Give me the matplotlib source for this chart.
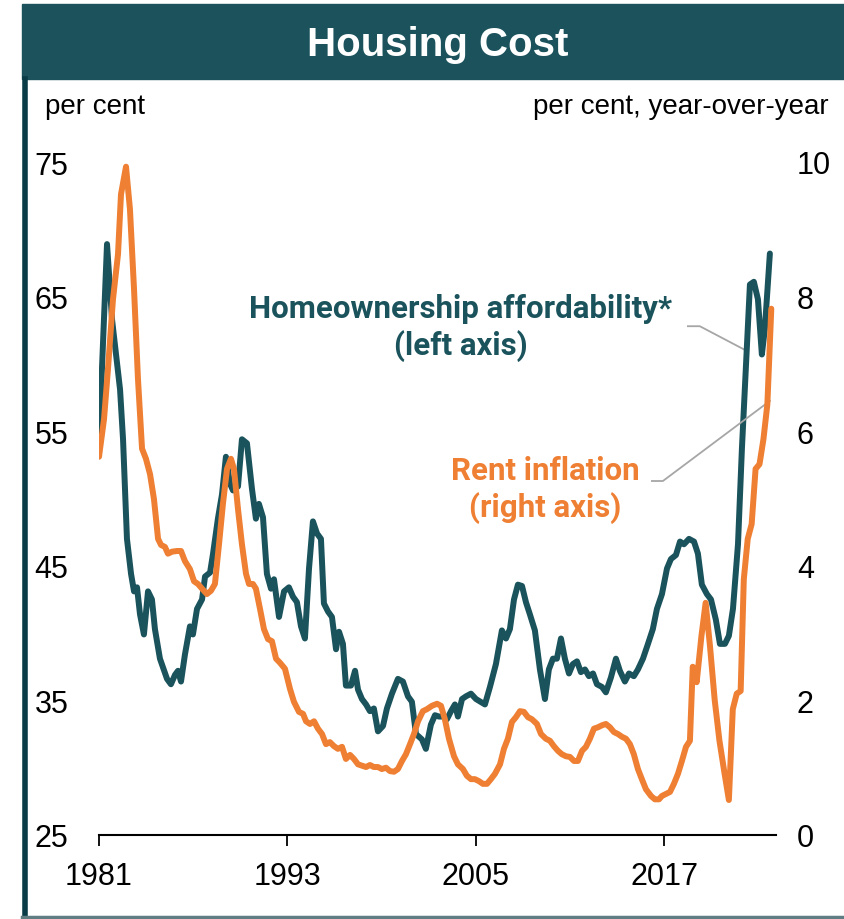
import matplotlib
matplotlib.use("Agg")
import matplotlib.pyplot as plt
from matplotlib.patches import Rectangle
from matplotlib.lines import Line2D

# Homeownership affordability, per cent (left axis)
afford_year = [1981.00, 1981.51, 1981.83, 1982.34, 1982.53, 1982.78, 1983.04, 1983.23, 1983.42,
               1983.61, 1983.86, 1984.12, 1984.37, 1984.56, 1984.88, 1985.33, 1985.58, 1985.84,
               1986.03, 1986.22, 1986.47, 1986.79, 1986.98, 1987.24, 1987.56, 1987.75, 1988.07,
               1988.26, 1988.57, 1988.83, 1989.08, 1989.34, 1989.53, 1989.85, 1990.10, 1990.42,
               1990.74, 1990.99, 1991.18, 1991.44, 1991.69, 1991.95, 1992.14, 1992.46, 1992.78,
               1993.09, 1993.35, 1993.60, 1993.86, 1994.11, 1994.37, 1994.62, 1994.88, 1995.13,
               1995.32, 1995.58, 1995.83, 1996.09, 1996.28, 1996.53, 1996.72, 1997.04, 1997.30,
               1997.49, 1997.74, 1998.00, 1998.25, 1998.50, 1998.76, 1999.08, 1999.33, 1999.65,
               2000.03, 2000.35, 2000.67, 2000.92, 2001.18, 2001.56, 2001.81, 2002.13, 2002.39,
               2002.64, 2002.96, 2003.15, 2003.41, 2003.66, 2003.85, 2004.11, 2004.36, 2004.68,
               2005.00, 2005.57, 2005.89, 2006.27, 2006.65, 2006.91, 2007.16, 2007.42, 2007.67,
               2007.93, 2008.18, 2008.43, 2008.75, 2009.07, 2009.39, 2009.64, 2009.90, 2010.15,
               2010.41, 2010.66, 2010.92, 2011.17, 2011.43, 2011.68, 2011.94, 2012.19, 2012.45,
               2012.70, 2013.02, 2013.27, 2013.59, 2013.91, 2014.16, 2014.48, 2014.74, 2015.05,
               2015.31, 2015.63, 2015.95, 2016.26, 2016.52, 2016.84, 2017.16, 2017.41, 2017.73,
               2017.99, 2018.24, 2018.56, 2018.88, 2019.13, 2019.38, 2019.70, 2019.96, 2020.27,
               2020.53, 2020.85, 2021.10, 2021.36, 2021.68, 2021.93, 2022.18, 2022.44, 2022.69,
               2022.95, 2023.20, 2023.39, 2023.71]
afford_val = [54.2, 68.9, 63.3, 58.1, 54.4, 47.0, 44.4, 43.1, 43.4,
              41.4, 39.9, 43.1, 42.5, 40.3, 38.1, 36.6, 36.2, 36.9,
              37.2, 36.4, 38.4, 40.5, 39.9, 41.8, 42.5, 44.2, 44.5,
              45.9, 48.5, 50.3, 53.1, 51.1, 50.6, 50.9, 54.4, 54.1,
              50.7, 48.5, 49.6, 48.6, 44.4, 43.3, 44.0, 41.2, 43.1,
              43.4, 42.7, 42.3, 40.5, 39.6, 44.8, 48.3, 47.4, 47.0,
              42.2, 41.6, 41.2, 38.8, 40.1, 39.2, 36.1, 36.1, 37.2,
              35.8, 35.1, 34.7, 34.2, 34.4, 32.7, 33.1, 34.4, 35.5,
              36.6, 36.4, 35.3, 34.9, 32.5, 32.1, 31.4, 33.2, 33.9,
              33.8, 33.8, 33.6, 34.2, 34.7, 33.8, 35.1, 35.3, 35.5,
              35.1, 34.7, 36.0, 37.7, 40.2, 39.6, 40.3, 42.5, 43.6,
              43.5, 42.3, 41.4, 40.2, 37.3, 35.1, 37.3, 38.1, 38.1,
              39.6, 38.1, 37.0, 37.7, 37.9, 37.1, 37.3, 36.8, 37.0,
              36.2, 36.0, 35.6, 36.7, 38.1, 37.2, 36.4, 37.0, 36.8,
              37.3, 38.1, 39.2, 40.3, 41.8, 42.9, 44.8, 45.5, 45.8,
              46.8, 46.6, 47.0, 46.8, 45.9, 43.6, 42.9, 42.5, 41.0,
              39.2, 39.2, 39.8, 41.8, 46.6, 53.7, 59.6, 65.9, 66.1,
              64.8, 60.7, 62.6, 68.2]

# Rent inflation, per cent year-over-year (right axis)
rent_year = [1981.00, 1981.32, 1981.57, 1981.89, 1982.21, 1982.40, 1982.72, 1982.97, 1983.23,
             1983.48, 1983.74, 1983.99, 1984.25, 1984.50, 1984.76, 1984.95, 1985.20, 1985.39,
             1985.65, 1985.97, 1986.22, 1986.47, 1986.79, 1987.05, 1987.30, 1987.56, 1987.87,
             1988.13, 1988.38, 1988.64, 1988.89, 1989.15, 1989.40, 1989.59, 1989.85, 1990.10,
             1990.36, 1990.55, 1990.80, 1990.99, 1991.25, 1991.50, 1991.76, 1992.01, 1992.27,
             1992.52, 1992.84, 1993.16, 1993.41, 1993.73, 1993.99, 1994.18, 1994.43, 1994.69,
             1994.94, 1995.20, 1995.45, 1995.70, 1995.96, 1996.21, 1996.47, 1996.72, 1996.98,
             1997.23, 1997.49, 1997.74, 1998.00, 1998.25, 1998.50, 1998.76, 1999.01, 1999.27,
             1999.52, 1999.78, 2000.03, 2000.29, 2000.54, 2000.80, 2001.05, 2001.31, 2001.62,
             2001.88, 2002.20, 2002.52, 2002.77, 2003.02, 2003.28, 2003.60, 2003.85, 2004.17,
             2004.42, 2004.68, 2004.93, 2005.19, 2005.44, 2005.70, 2005.95, 2006.21, 2006.53,
             2006.78, 2007.03, 2007.29, 2007.54, 2007.80, 2008.05, 2008.31, 2008.56, 2008.88,
             2009.14, 2009.45, 2009.71, 2009.96, 2010.22, 2010.47, 2010.73, 2010.98, 2011.24,
             2011.49, 2011.75, 2012.00, 2012.25, 2012.51, 2012.76, 2013.02, 2013.27, 2013.53,
             2013.78, 2014.04, 2014.29, 2014.55, 2014.80, 2015.05, 2015.31, 2015.56, 2015.82,
             2016.14, 2016.39, 2016.65, 2016.84, 2017.10, 2017.35, 2017.60, 2017.86, 2018.11,
             2018.37, 2018.62, 2018.80, 2019.05, 2019.35, 2019.62, 2019.90, 2020.20, 2020.50,
             2020.80, 2021.10, 2021.35, 2021.60, 2021.85, 2022.05, 2022.30, 2022.55, 2022.80,
             2023.05, 2023.30, 2023.55, 2023.80]
rent_val = [5.62, 6.18, 6.92, 7.96, 8.63, 9.52, 9.93, 9.30, 8.11,
            6.78, 5.74, 5.59, 5.36, 4.99, 4.40, 4.31, 4.28, 4.18,
            4.21, 4.22, 4.22, 4.07, 3.95, 3.77, 3.73, 3.66, 3.58,
            3.63, 3.73, 4.32, 4.92, 5.44, 5.59, 5.44, 4.84, 4.32,
            3.88, 3.73, 3.73, 3.66, 3.36, 3.06, 2.91, 2.88, 2.62,
            2.56, 2.47, 2.17, 1.98, 1.83, 1.80, 1.69, 1.65, 1.69,
            1.58, 1.50, 1.35, 1.38, 1.32, 1.28, 1.31, 1.13, 1.19,
            1.13, 1.05, 1.03, 1.01, 1.04, 1.01, 1.01, 0.98, 1.00,
            0.95, 0.94, 0.98, 1.10, 1.20, 1.35, 1.50, 1.69, 1.84,
            1.87, 1.92, 1.95, 1.92, 1.72, 1.43, 1.17, 1.05, 0.98,
            0.88, 0.83, 0.83, 0.80, 0.76, 0.76, 0.83, 0.91, 1.05,
            1.28, 1.43, 1.68, 1.75, 1.84, 1.83, 1.75, 1.72, 1.65,
            1.50, 1.43, 1.40, 1.32, 1.25, 1.20, 1.17, 1.16, 1.10,
            1.10, 1.25, 1.31, 1.43, 1.58, 1.60, 1.63, 1.65, 1.60,
            1.53, 1.50, 1.46, 1.43, 1.35, 1.20, 0.98, 0.83, 0.68,
            0.58, 0.53, 0.53, 0.58, 0.61, 0.64, 0.76, 0.91, 1.10,
            1.31, 1.40, 2.50, 2.27, 2.95, 3.45, 2.80, 2.00, 1.40,
            0.95, 0.52, 1.87, 2.10, 2.14, 3.80, 4.40, 4.62, 5.44,
            5.51, 5.88, 6.40, 7.82]

year_ticks = [1981, 1993, 2005, 2017]
left_ticks = [25, 35, 45, 55, 65, 75]
right_ticks = [0, 2, 4, 6, 8, 10]

TEAL = "#1a535c"
ORANGE = "#ee7f33"
FRAME = "#0a3c47"
GREY = "#a6a6a6"
W, H = 845, 920

fig = plt.figure(figsize=(W / 100, H / 100), dpi=100)


def fx(px):
    return px / W


def fy(py):
    return 1 - py / H


# title bar and frame
fig.patches.append(Rectangle((fx(22), fy(80)), 1 - fx(22), fy(5) - fy(80),
                             transform=fig.transFigure, color="#1b525c", zorder=0))
fig.lines.append(Line2D([fx(25.5), fx(25.5)], [fy(80), fy(920)], transform=fig.transFigure,
                        color=FRAME, lw=4))
fig.lines.append(Line2D([fx(22), 1], [fy(918), fy(918)], transform=fig.transFigure,
                        color="#5f7d83", lw=2.5))
fig.text(fx(438), fy(45), "Housing Cost", color="white", fontsize=29, fontweight="bold",
         family="Liberation Sans", ha="center", va="center")

ax = fig.add_axes([fx(99), fy(836), fx(776) - fx(99), fy(163) - fy(836)])
ax2 = ax.twinx()

ax.plot(afford_year, afford_val, color=TEAL, lw=4.3, solid_joinstyle="round",
        solid_capstyle="round", zorder=3)
ax2.plot(rent_year, rent_val, color=ORANGE, lw=4.3, solid_joinstyle="round",
         solid_capstyle="round", zorder=3)

ax.set_xlim(1981, 2024.1)
ax.set_ylim(25, 75)
ax2.set_ylim(0, 10)

for a in (ax, ax2):
    for s in ("top", "left", "right", "bottom"):
        a.spines[s].set_visible(False)
ax.spines["bottom"].set_visible(True)
ax.spines["bottom"].set_color("black")
ax.spines["bottom"].set_linewidth(1.5)

tick_font = dict(family="Liberation Sans", size=22)
ax.set_xticks(year_ticks)
ax.set_xticklabels([str(y) for y in year_ticks], **tick_font)
ax.tick_params(axis="x", direction="out", length=8, width=1.3, pad=11)
ax.set_yticks(left_ticks)
ax.set_yticklabels([str(v) for v in left_ticks], **tick_font)
ax.tick_params(axis="y", length=0, pad=22)
ax2.set_yticks(right_ticks)
ax2.set_yticklabels([str(v) for v in right_ticks], **tick_font)
ax2.tick_params(axis="y", length=0, pad=15)
ax.patch.set_visible(False)

fig.text(fx(45), fy(107), "per cent", fontsize=20, family="Liberation Sans",
         ha="left", va="center")
fig.text(fx(829), fy(107), "per cent, year-over-year", fontsize=20,
         family="Liberation Sans", ha="right", va="center")

# series labels with leader lines
lab = dict(family="Roboto", fontweight="bold", fontsize=22.5, ha="center", va="center",
           linespacing=1.25)
ax.text(2004.04, 62.75, "Homeownership affordability*\n(left axis)", color=TEAL, **lab)
ax2.text(2009.39, 5.14, "Rent inflation\n(right axis)", color=ORANGE, **lab)
ax.plot([2018.49, 2019.25, 2022.25], [62.8, 62.8, 60.96], color=GREY, lw=1.3, zorder=2)
ax2.plot([2016.2, 2016.9, 2023.71], [5.26, 5.26, 6.45], color=GREY, lw=1.3, zorder=2)

fig.savefig("out.png", dpi=100)
